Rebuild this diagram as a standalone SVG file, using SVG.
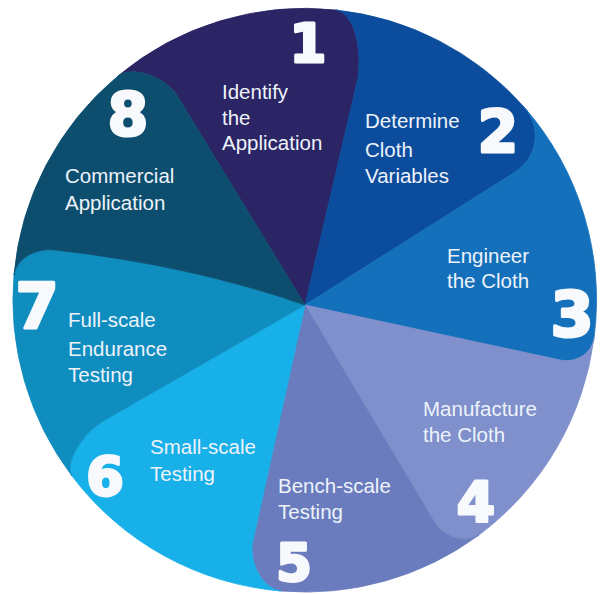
<svg xmlns="http://www.w3.org/2000/svg" width="600" height="594" viewBox="0 0 600 594">
<style>
.petal{stroke-width:0.8;stroke-linejoin:round}
.lbl{font-family:"Liberation Sans",Arial,sans-serif;font-size:20.5px;fill:#eef3fa}
.num{font-family:"DejaVu Sans","Liberation Sans",sans-serif;font-weight:bold;fill:#f7f9fc;stroke:#f7f9fc;stroke-width:3;stroke-linejoin:round;text-anchor:middle}
</style>
<rect width="600" height="594" fill="#ffffff"/>
<g id="connectors"/>
<g id="node1">
<path class="petal" fill="#2b2565" stroke="#2b2565" d="M305,305 L178,97 C165.9,76.75 132.9,65.2 118,76 A292,292 0 0 1 336,10 C352.5,12.75 362.4,43.4 358,78 Z"/>
<text class="num" x="308" y="62" font-size="53">1</text>
<text class="lbl" x="222" y="99">Identify</text>
<text class="lbl" x="222" y="125">the</text>
<text class="lbl" x="222" y="150">Application</text>
</g>
<g id="node2">
<path class="petal" fill="#0c4c9c" stroke="#0c4c9c" d="M305,305 L358,78 C362.4,43.4 352.5,12.75 336,10 A292,292 0 0 1 524,107 C542,127 538,158 515,172 Z"/>
<text class="num" x="498" y="152" font-size="58">2</text>
<text class="lbl" x="365" y="128">Determine</text>
<text class="lbl" x="365" y="157">Cloth</text>
<text class="lbl" x="365" y="183">Variables</text>
</g>
<g id="node3">
<path class="petal" fill="#1570bb" stroke="#1570bb" d="M305,305 L515,172 C538,158 542,127 524,107 A292,292 0 0 1 594,338 C591.8,353.4 576.5,363.3 560,360 Z"/>
<text class="num" x="572" y="336" font-size="62">3</text>
<text class="lbl" x="447" y="263">Engineer</text>
<text class="lbl" x="447" y="288">the Cloth</text>
</g>
<g id="node4">
<path class="petal" fill="#7f90cc" stroke="#7f90cc" d="M305,305 L560,360 C576.5,363.3 591.8,353.4 594,338 A292,292 0 0 1 479,535 C464.2,544.4 443.5,537.6 433,520 Z"/>
<text class="num" x="476" y="521" font-size="55">4</text>
<text class="lbl" x="423" y="416">Manufacture</text>
<text class="lbl" x="423" y="442">the Cloth</text>
</g>
<g id="node5">
<path class="petal" fill="#6a7cbd" stroke="#6a7cbd" d="M305,305 L433,520 C443.5,537.6 464.2,544.4 479,535 A292,292 0 0 1 281,591 C264,588.8 250.9,568.1 252,545 Z"/>
<text class="num" x="294" y="581" font-size="51">5</text>
<text class="lbl" x="278" y="493">Bench-scale</text>
<text class="lbl" x="278" y="519">Testing</text>
</g>
<g id="node6">
<path class="petal" fill="#17b0e8" stroke="#17b0e8" d="M305,305 L252,545 C250.9,568.1 264,588.8 281,591 A292,292 0 0 1 72,476 C63.9,464 82,433 105,420 Z"/>
<text class="num" x="105" y="495" font-size="54">6</text>
<text class="lbl" x="150" y="454">Small-scale</text>
<text class="lbl" x="150" y="481">Testing</text>
</g>
<g id="node7">
<path class="petal" fill="#0f8dbf" stroke="#0f8dbf" d="M305,305 L105,420 C82,433 63.9,464 72,476 A292,292 0 0 1 14,275 C16.2,259 34.6,247.8 55,250 Q190,265 305,305 Z"/>
<text class="num" x="37" y="328" font-size="62">7</text>
<text class="lbl" x="68" y="327">Full-scale</text>
<text class="lbl" x="68" y="356">Endurance</text>
<text class="lbl" x="68" y="382">Testing</text>
</g>
<g id="node8">
<path class="petal" fill="#0d4e6e" stroke="#0d4e6e" d="M305,305 Q190,265 55,250 C34.6,247.8 16.2,259 14,275 A292,292 0 0 1 118,76 C132.9,65.2 165.9,76.75 178,97 Z"/>
<text class="num" x="128" y="135" font-size="58">8</text>
<text class="lbl" x="65" y="183">Commercial</text>
<text class="lbl" x="65" y="210">Application</text>
</g>
</svg>
